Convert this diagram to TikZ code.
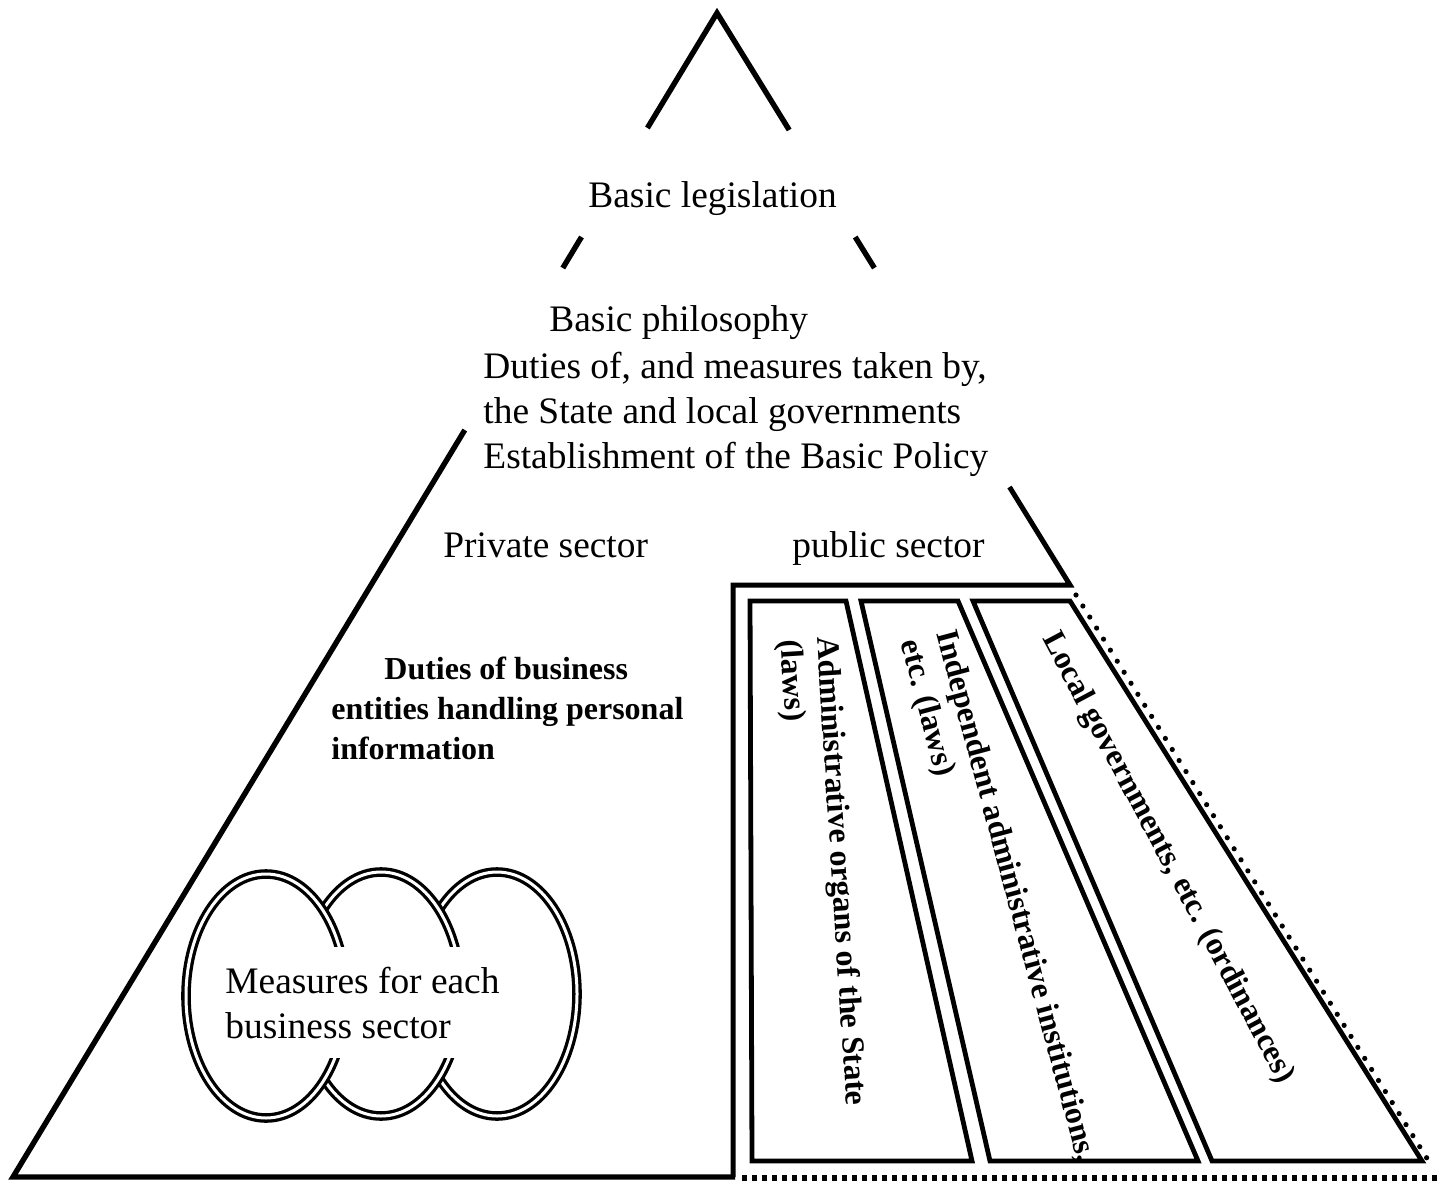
\documentclass[tikz,border=0pt]{standalone}
\usepackage{fontspec}
\setmainfont{Liberation Serif}
\usetikzlibrary{shapes.geometric}

\tikzset{
  tri/.style={line width=2.7pt, line join=miter},
  frameline/.style={line width=2.5pt, line join=miter},
  colbox/.style={line width=2.4pt, line join=miter},
  rounddots/.style={line width=2.6pt, line cap=round, dash pattern=on 0pt off 6.5pt},
  squaredots/.style={line width=2.6pt, dash pattern=on 2.4pt off 2.6pt},
  bubble/.style={ellipse, draw, line width=1.65pt, double=white, double distance=1.5pt,
    fill=white, inner sep=0pt, minimum width=80pt, minimum height=122pt},
  txt/.style={inner sep=0pt, font=\fontsize{18.7pt}{22.5pt}\selectfont},
  boldtxt/.style={inner sep=0pt, font=\fontsize{16pt}{20pt}\selectfont\bfseries},
  coltxt/.style={inner sep=0pt, font=\fontsize{16pt}{18.4pt}\selectfont\bfseries},
}

\begin{document}
\begin{tikzpicture}[x=0.5pt, y=-0.5pt]
\useasboundingbox (0,0) rectangle (1439,1182);

% outline of the pyramid, broken where the headings sit
\coordinate (apex) at (717,13);
\coordinate (l1) at (647.4,128);
\coordinate (r1) at (789.2,130);
\coordinate (l2a) at (581.5,237);
\coordinate (l2b) at (562.8,268);
\coordinate (r2a) at (855.2,237);
\coordinate (r2b) at (874.4,268);
\coordinate (l3) at (464.8,430);
\coordinate (footL) at (13,1177);
\coordinate (baseM) at (735,1177);
\coordinate (r3) at (1009.5,487);
\coordinate (corner) at (1070,585);
\coordinate (boxTL) at (733,585);
\coordinate (boxBL) at (733,1177);

\draw[tri] (l1) -- (apex) -- (r1);
\draw[tri] (l2a) -- (l2b);
\draw[tri] (r2a) -- (r2b);
\draw[tri] (l3) -- (footL) -- (baseM);
\draw[frameline] (r3) -- (corner) -- (boxTL) -- (boxBL);

% dotted continuation of the public-sector side
\coordinate (dotTop) at (1076,595);
\coordinate (dotBot) at (1433,1168);
\coordinate (dotL) at (742,1178);
\coordinate (dotR) at (1439,1178);
\draw[rounddots] (dotTop) -- (dotBot);
\draw[squaredots] (dotL) -- (dotR);

% the three public-sector columns
\draw[colbox] (750,601) -- (846,601) -- (972,1161) -- (752,1161) -- cycle;
\draw[colbox] (861,601) -- (958,601) -- (1198,1161) -- (990,1161) -- cycle;
\draw[colbox] (973,601) -- (1070,601) -- (1422,1161) -- (1212,1161) -- cycle;

% headings (multi-line nodes are placed by the baseline of their last line)
\node[txt, anchor=base west] (legis) at (588,208) {Basic legislation};
\node[txt, anchor=base west] (phil) at (549,331) {Basic philosophy};
\node[txt, anchor=base west, align=left] (duties) at (483,468)
  {Duties of, and measures taken by,\\the State and local governments\\Establishment of the Basic Policy};
\node[txt, anchor=base west] (private) at (443,557) {Private sector};
\node[txt, anchor=base west] (public) at (792,557) {public sector};

\node[boldtxt, anchor=base west, align=left] (bizduty) at (331,759)
  {\hspace*{26.5pt}Duties of business\\entities handling personal\\information};

% business-sector measures
\node[bubble] (bubR) at (497,994) {};
\node[bubble] (bubM) at (381,994) {};
\node[bubble] (bubL) at (266,996) {};
\node[txt, fill=white, inner xsep=5pt, inner ysep=10pt, anchor=base west, align=left]
  (measures) at (215,1038) {Measures for each\\business sector};

% column labels
\node[coltxt, rotate=-86.4, anchor=north west, align=left] (colA) at (840,636)
  {Administrative organs of the State\\(laws)};
\node[coltxt, rotate=-75, anchor=north west, align=left] (colB) at (958,627)
  {Independent administrative institutions,\\etc. (laws)};
\node[coltxt, rotate=-62, anchor=north west] (colC) at (1062,628)
  {Local governments, etc. (ordinances)};
\end{tikzpicture}
\end{document}
